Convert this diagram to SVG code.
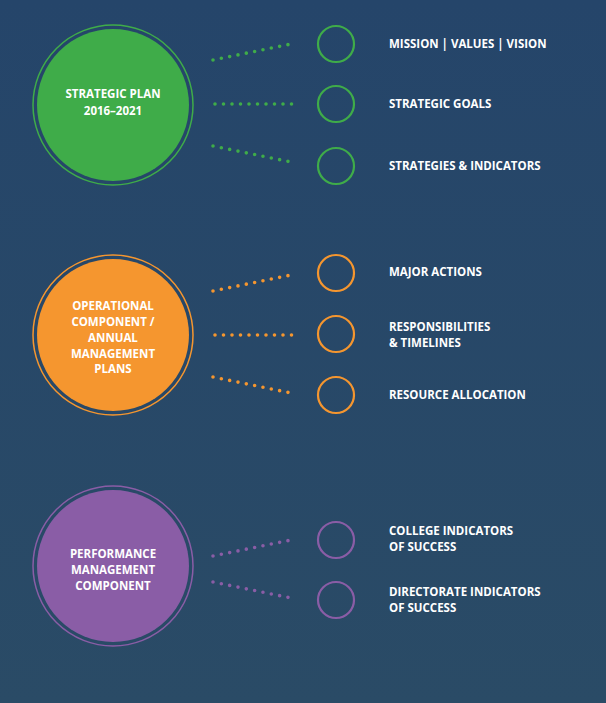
<svg xmlns="http://www.w3.org/2000/svg" width="606" height="703" viewBox="0 0 606 703">
<style>
.t{font-family:"Open Sans","Liberation Sans",sans-serif;font-weight:bold;font-size:11.5px;fill:#fff}
.c{text-anchor:middle}
.d{fill:none;stroke-width:3.6;stroke-linecap:round;stroke-dasharray:0 8.5}
.s{fill:none;stroke-width:2.2}
.g{stroke:#3fac49}.o{stroke:#f5962f}.p{stroke:#8a5da6}
</style>
<defs><linearGradient id="bg" x1="0" y1="0" x2="0" y2="1"><stop offset="0" stop-color="#25456a"/><stop offset="1" stop-color="#2a4b66"/></linearGradient></defs>
<rect width="606" height="703" fill="url(#bg)"/>
<g id="connectors">
<path class="d g" d="M213 60L291 44M215 104L295 104M213 146L291 162"/>
<path class="d o" d="M213 291L291 275M215 335L295 335M213 377L291 393"/>
<path class="d p" d="M213 556L291 540M213 582L291 598"/>
</g>
<g id="strategic"><circle cx="113" cy="105" r="80" fill="none" stroke="#3fac49" stroke-width="1.5"/><circle cx="113" cy="105" r="76" fill="#3fac49"/>
<text class="t c" x="113" y="98">STRATEGIC PLAN</text><text class="t c" x="113" y="115">2016–2021</text></g>
<g id="operational"><circle cx="113" cy="335" r="80" fill="none" stroke="#f5962f" stroke-width="1.5"/><circle cx="113" cy="335" r="76" fill="#f5962f"/>
<text class="t c" x="113" y="310">OPERATIONAL</text><text class="t c" x="113" y="326">COMPONENT /</text><text class="t c" x="113" y="342">ANNUAL</text><text class="t c" x="113" y="358">MANAGEMENT</text><text class="t c" x="113" y="373">PLANS</text></g>
<g id="performance"><circle cx="113" cy="566" r="80" fill="none" stroke="#8a5da6" stroke-width="1.5"/><circle cx="113" cy="566" r="76" fill="#8a5da6"/>
<text class="t c" x="113" y="558">PERFORMANCE</text><text class="t c" x="113" y="574">MANAGEMENT</text><text class="t c" x="113" y="590">COMPONENT</text></g>
<g id="n1"><circle class="s g" cx="336" cy="44" r="18"/><text class="t" x="389" y="48">MISSION | VALUES | VISION</text></g>
<g id="n2"><circle class="s g" cx="336" cy="104" r="18"/><text class="t" x="389" y="108">STRATEGIC GOALS</text></g>
<g id="n3"><circle class="s g" cx="336" cy="166" r="18"/><text class="t" x="389" y="170">STRATEGIES &amp; INDICATORS</text></g>
<g id="n4"><circle class="s o" cx="336" cy="273" r="18"/><text class="t" x="389" y="276">MAJOR ACTIONS</text></g>
<g id="n5"><circle class="s o" cx="336" cy="334" r="18"/><text class="t" x="389" y="331">RESPONSIBILITIES</text><text class="t" x="389" y="347">&amp; TIMELINES</text></g>
<g id="n6"><circle class="s o" cx="336" cy="395" r="18"/><text class="t" x="389" y="399">RESOURCE ALLOCATION</text></g>
<g id="n7"><circle class="s p" cx="336" cy="540" r="18"/><text class="t" x="389" y="535">COLLEGE INDICATORS</text><text class="t" x="389" y="551">OF SUCCESS</text></g>
<g id="n8"><circle class="s p" cx="336" cy="600" r="18"/><text class="t" x="389" y="596">DIRECTORATE INDICATORS</text><text class="t" x="389" y="612">OF SUCCESS</text></g>
</svg>
